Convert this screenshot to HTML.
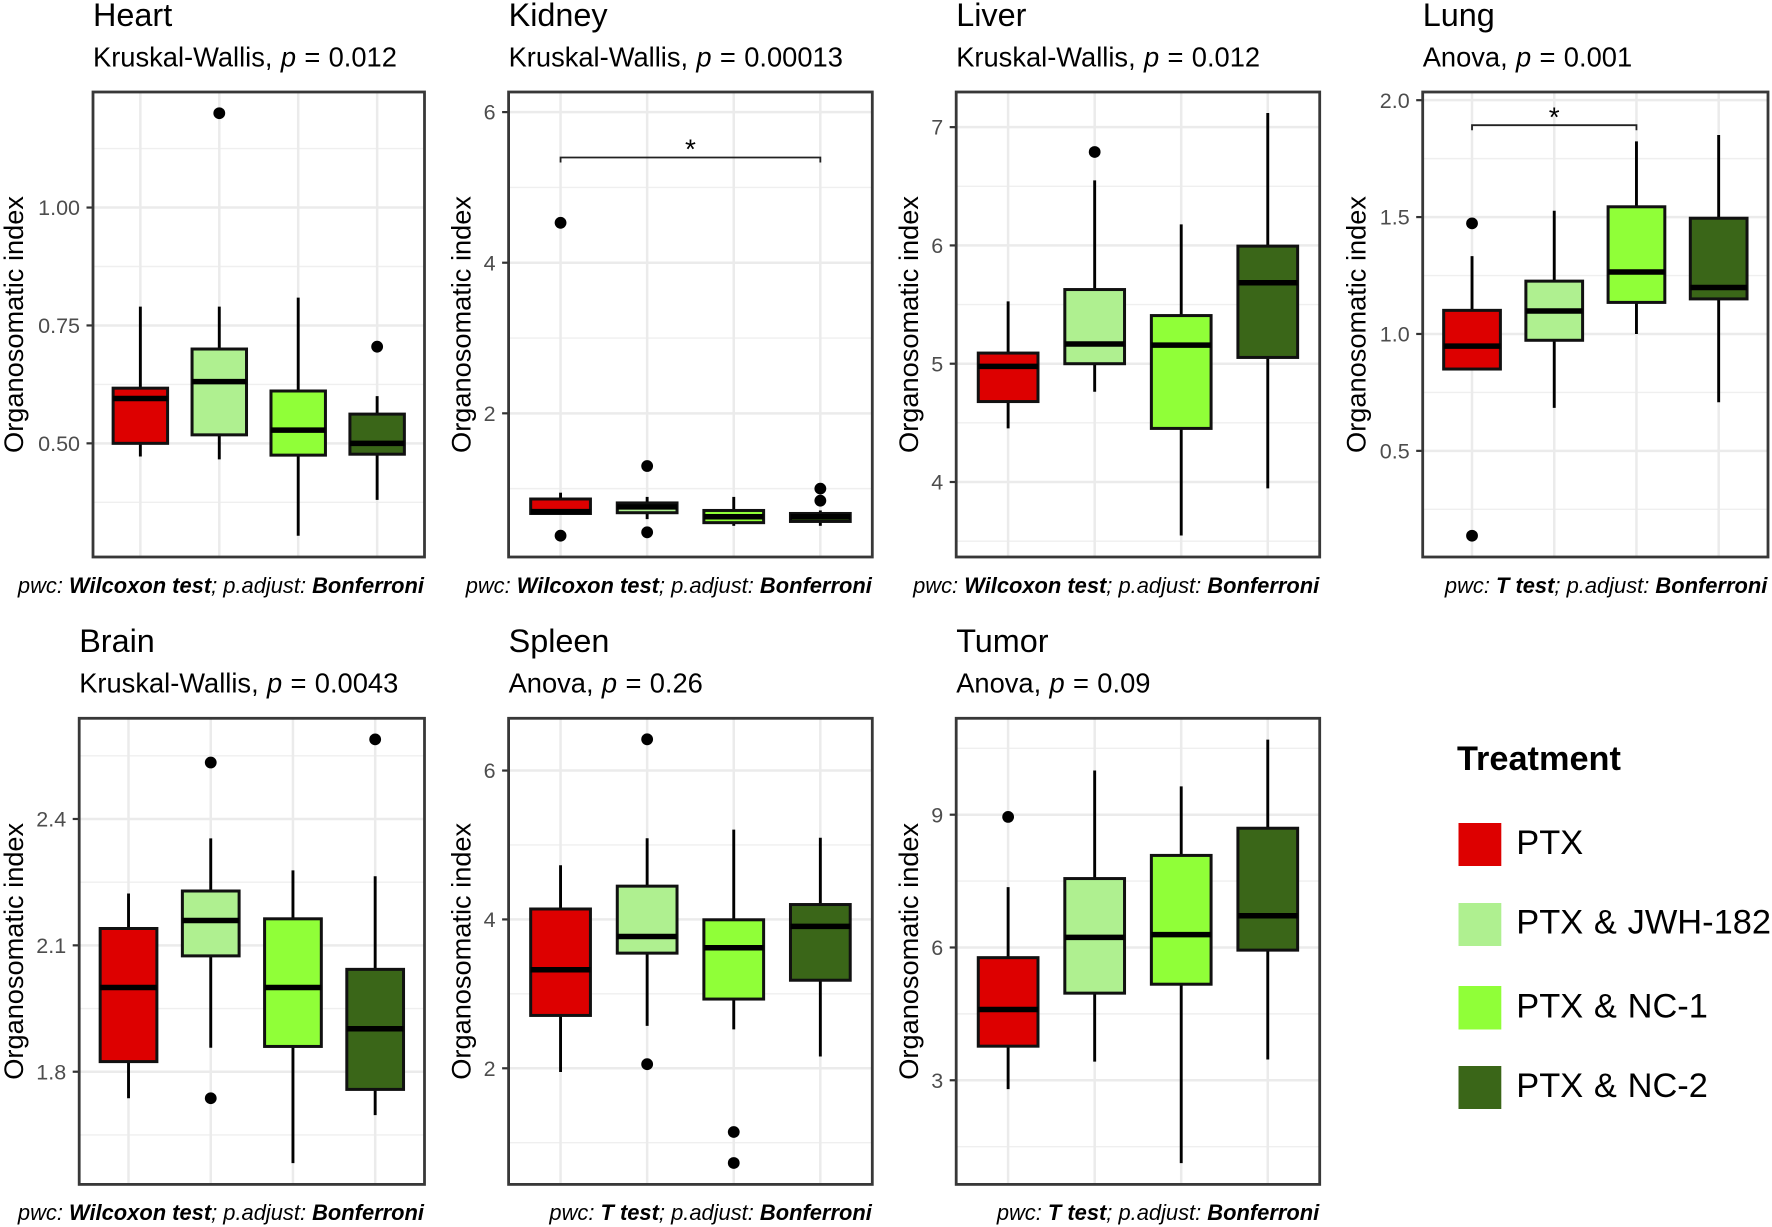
<!DOCTYPE html>
<html lang="en">
<head>
<meta charset="utf-8">
<title>Organosomatic index by treatment</title>
<style>
html,body{margin:0;padding:0;background:#fff;}
svg{display:block;font-family:"Liberation Sans",Arial,sans-serif;}
.title{font-size:32.4px;fill:#000;}
.subtitle{font-size:27.3px;fill:#000;word-spacing:0.75px;}
.ytitle{font-size:27.2px;fill:#000;}
.footer{font-size:21.9px;font-style:italic;fill:#000;text-anchor:end;}
.footer .b{font-weight:bold;}
.legend-title{font-size:34.3px;font-weight:bold;fill:#000;}
.legend-label{font-size:34.4px;fill:#000;word-spacing:1.2px;}
</style>
</head>
<body>
<svg id="figure" width="1772" height="1227" viewBox="0 0 1772 1227">
  <rect x="0" y="0" width="1772" height="1227" fill="#fff"/>

  <g>
    <text class="title" x="93" y="25.9">Heart</text>
    <text class="subtitle" x="93" y="66.3">Kruskal-Wallis, <tspan font-style="italic">p</tspan> = 0.012</text>
    <text class="ytitle" transform="translate(22.8,324.5) rotate(-90)" text-anchor="middle">Organosomatic index</text>
    <g id="heart-plot"></g>
    <text class="footer" x="424" y="593">pwc: <tspan class="b">Wilcoxon test</tspan>; p.adjust: <tspan class="b">Bonferroni</tspan></text>
  </g>

  <g>
    <text class="title" x="508.6" y="25.9">Kidney</text>
    <text class="subtitle" x="508.6" y="66.3">Kruskal-Wallis, <tspan font-style="italic">p</tspan> = 0.00013</text>
    <text class="ytitle" transform="translate(470.5,324.5) rotate(-90)" text-anchor="middle">Organosomatic index</text>
    <g id="kidney-plot"></g>
    <text class="footer" x="871.8" y="593">pwc: <tspan class="b">Wilcoxon test</tspan>; p.adjust: <tspan class="b">Bonferroni</tspan></text>
  </g>

  <g>
    <text class="title" x="956.2" y="25.9">Liver</text>
    <text class="subtitle" x="956.2" y="66.3">Kruskal-Wallis, <tspan font-style="italic">p</tspan> = 0.012</text>
    <text class="ytitle" transform="translate(918,324.5) rotate(-90)" text-anchor="middle">Organosomatic index</text>
    <g id="liver-plot"></g>
    <text class="footer" x="1319.2" y="593">pwc: <tspan class="b">Wilcoxon test</tspan>; p.adjust: <tspan class="b">Bonferroni</tspan></text>
  </g>

  <g>
    <text class="title" x="1422.7" y="25.9">Lung</text>
    <text class="subtitle" x="1422.7" y="66.3">Anova, <tspan font-style="italic">p</tspan> = 0.001</text>
    <text class="ytitle" transform="translate(1365.5,324.5) rotate(-90)" text-anchor="middle">Organosomatic index</text>
    <g id="lung-plot"></g>
    <text class="footer" x="1767.3" y="593">pwc: <tspan class="b">T test</tspan>; p.adjust: <tspan class="b">Bonferroni</tspan></text>
  </g>

  <g>
    <text class="title" x="79.2" y="652.2">Brain</text>
    <text class="subtitle" x="79.2" y="692.6">Kruskal-Wallis, <tspan font-style="italic">p</tspan> = 0.0043</text>
    <text class="ytitle" transform="translate(22.8,951.3) rotate(-90)" text-anchor="middle">Organosomatic index</text>
    <g id="brain-plot"></g>
    <text class="footer" x="424" y="1219.8">pwc: <tspan class="b">Wilcoxon test</tspan>; p.adjust: <tspan class="b">Bonferroni</tspan></text>
  </g>

  <g>
    <text class="title" x="508.6" y="652.2">Spleen</text>
    <text class="subtitle" x="508.6" y="692.6">Anova, <tspan font-style="italic">p</tspan> = 0.26</text>
    <text class="ytitle" transform="translate(470.5,951.3) rotate(-90)" text-anchor="middle">Organosomatic index</text>
    <g id="spleen-plot"></g>
    <text class="footer" x="871.8" y="1219.8">pwc: <tspan class="b">T test</tspan>; p.adjust: <tspan class="b">Bonferroni</tspan></text>
  </g>

  <g>
    <text class="title" x="956.2" y="652.2">Tumor</text>
    <text class="subtitle" x="956.2" y="692.6">Anova, <tspan font-style="italic">p</tspan> = 0.09</text>
    <text class="ytitle" transform="translate(918,951.3) rotate(-90)" text-anchor="middle">Organosomatic index</text>
    <g id="tumor-plot"></g>
    <text class="footer" x="1319.2" y="1219.8">pwc: <tspan class="b">T test</tspan>; p.adjust: <tspan class="b">Bonferroni</tspan></text>
  </g>

  <g>
    <text class="legend-title" x="1457" y="770">Treatment</text>
    <rect x="1458.5" y="823" width="42.8" height="43" fill="#dd0000"/>
    <text class="legend-label" x="1516.3" y="854">PTX</text>
    <rect x="1458.5" y="903" width="42.8" height="43" fill="#aff090"/>
    <text class="legend-label" x="1516.3" y="933.6">PTX &amp; JWH-182</text>
    <rect x="1458.5" y="986" width="42.8" height="43.5" fill="#90ff38"/>
    <text class="legend-label" x="1516.3" y="1017.3">PTX &amp; NC-1</text>
    <rect x="1458.5" y="1066" width="42.8" height="43" fill="#3a6618"/>
    <text class="legend-label" x="1516.3" y="1097">PTX &amp; NC-2</text>
  </g>
</svg>

<script>
// ---- categories ----
const treatments = ['PTX', 'PTX & JWH-182', 'PTX & NC-1', 'PTX & NC-2'];

// ---- Heart ----
const heartTicks = [0.5, 0.75, 1.0];
const heartTickLabels = ['0.50', '0.75', '1.00'];
const heartDomain = [0.259, 1.245];
const heartLow = [0.472, 0.466, 0.304, 0.38];
const heartQ1 = [0.5, 0.518, 0.475, 0.477];
const heartMedian = [0.595, 0.631, 0.528, 0.5];
const heartQ3 = [0.617, 0.7, 0.611, 0.562];
const heartHigh = [0.79, 0.79, 0.809, 0.6];
const heartOutliers = [[], [1.2], [], [0.705]];

// ---- Kidney ----
const kidneyTicks = [2, 4, 6];
const kidneyTickLabels = ['2', '4', '6'];
const kidneyDomain = [0.092, 6.267];
const kidneyLow = [0.67, 0.595, 0.506, 0.506];
const kidneyQ1 = [0.67, 0.68, 0.548, 0.564];
const kidneyMedian = [0.695, 0.757, 0.626, 0.626];
const kidneyQ3 = [0.862, 0.81, 0.71, 0.67];
const kidneyHigh = [0.946, 0.89, 0.89, 0.71];
const kidneyOutliers = [[4.53, 0.375], [1.3, 0.42], [], [1.0, 0.84]];
const kidneyBracket = [5.397];
const kidneyBracketGroups = [0, 3];

// ---- Liver ----
const liverTicks = [4, 5, 6, 7];
const liverTickLabels = ['4', '5', '6', '7'];
const liverDomain = [3.366, 7.297];
const liverLow = [4.453, 4.763, 3.548, 3.946];
const liverQ1 = [4.68, 5.0, 4.453, 5.053];
const liverMedian = [4.977, 5.167, 5.157, 5.684];
const liverQ3 = [5.09, 5.627, 5.407, 5.994];
const liverHigh = [5.527, 6.55, 6.178, 7.119];
const liverOutliers = [[], [6.79], [], []];

// ---- Lung ----
const lungTicks = [0.5, 1.0, 1.5, 2.0];
const lungTickLabels = ['0.5', '1.0', '1.5', '2.0'];
const lungDomain = [0.046, 2.035];
const lungLow = [0.85, 0.684, 1.0, 0.708];
const lungQ1 = [0.85, 0.973, 1.135, 1.15];
const lungMedian = [0.948, 1.098, 1.265, 1.199];
const lungQ3 = [1.101, 1.226, 1.544, 1.495];
const lungHigh = [1.333, 1.527, 1.824, 1.851];
const lungOutliers = [[1.473, 0.137], [], [], []];
const lungBracket = [1.893];
const lungBracketGroups = [0, 2];

// ---- Brain ----
const brainTicks = [1.8, 2.1, 2.4];
const brainTickLabels = ['1.8', '2.1', '2.4'];
const brainDomain = [1.5325, 2.639];
const brainLow = [1.737, 1.857, 1.583, 1.697];
const brainQ1 = [1.824, 2.075, 1.86, 1.758];
const brainMedian = [2.0, 2.159, 2.0, 1.902];
const brainQ3 = [2.14, 2.229, 2.163, 2.043];
const brainHigh = [2.223, 2.354, 2.278, 2.264];
const brainOutliers = [[], [2.534, 1.737], [], [2.589]];

// ---- Spleen ----
const spleenTicks = [2, 4, 6];
const spleenTickLabels = ['2', '4', '6'];
const spleenDomain = [0.44, 6.702];
const spleenLow = [1.95, 2.57, 2.523, 2.159];
const spleenQ1 = [2.71, 3.547, 2.93, 3.183];
const spleenMedian = [3.324, 3.77, 3.62, 3.906];
const spleenQ3 = [4.14, 4.447, 3.995, 4.2];
const spleenHigh = [4.728, 5.09, 5.207, 5.098];
const spleenOutliers = [[], [6.42, 2.055], [1.144, 0.728], []];

// ---- Tumor ----
const tumorTicks = [3, 6, 9];
const tumorTickLabels = ['3', '6', '9'];
const tumorDomain = [0.647, 11.178];
const tumorLow = [2.8, 3.42, 1.128, 3.47];
const tumorQ1 = [3.77, 4.968, 5.17, 5.94];
const tumorMedian = [4.6, 6.227, 6.289, 6.717];
const tumorQ3 = [5.77, 7.557, 8.08, 8.694];
const tumorHigh = [7.364, 10.0, 9.639, 10.697];
const tumorOutliers = [[8.95], [], [], []];

// ---- appearance (not data) ----
const fillColors = ['#dd0000', '#aff090', '#90ff38', '#3a6618'];
const SVG_NS = 'http://www.w3.org/2000/svg';

function make(parent, tag, attrs) {
  const node = document.createElementNS(SVG_NS, tag);
  for (const key in attrs) node.setAttribute(key, attrs[key]);
  parent.appendChild(node);
  return node;
}

function slug(label) {
  return label.toLowerCase().replace(/[^a-z0-9]+/g, '-');
}

function drawPanel(organ, frame, d) {
  const root = document.getElementById(organ + '-plot');
  const y = v => frame.bottom - (v - d.domain[0]) / (d.domain[1] - d.domain[0]) * (frame.bottom - frame.top);
  const unit = (frame.right - frame.left) / (treatments.length - 1 + 1.2);
  const x = i => frame.left + (0.6 + i) * unit;
  const boxW = 0.69 * unit;

  const bg = make(root, 'rect', {x: frame.left, y: frame.top, width: frame.right - frame.left, height: frame.bottom - frame.top, fill: '#fff'});
  
  

  // minor grid, derived from tick spacing
  const step = d.ticks[1] - d.ticks[0];
  for (let m = d.ticks[0] - step / 2; m < d.domain[1]; m += step) {
    if (m <= d.domain[0]) continue;
    const minor = make(root, 'line', {x1: frame.left, x2: frame.right, y1: y(m), y2: y(m), stroke: '#efefef', 'stroke-width': 1.4});
    
    
  }
  d.ticks.forEach((t, i) => {
    const major = make(root, 'line', {x1: frame.left, x2: frame.right, y1: y(t), y2: y(t), stroke: '#ebebeb', 'stroke-width': 2.5});
    
    
    const tick = make(root, 'line', {x1: frame.left - 6.5, x2: frame.left, y1: y(t), y2: y(t), stroke: '#333', 'stroke-width': 2.2});
    
    
    const label = make(root, 'text', {x: frame.left - 13, y: y(t) + 7.6, 'text-anchor': 'end', 'font-size': '21.5px', fill: '#4d4d4d'});
    label.textContent = d.tickLabels[i];
    
    
  });
  treatments.forEach((_, i) => {
    const vert = make(root, 'line', {x1: x(i), x2: x(i), y1: frame.top, y2: frame.bottom, stroke: '#ebebeb', 'stroke-width': 2.5});
    
    
  });

  treatments.forEach((treatment, i) => {
    const id = organ + '-' + slug(treatment);
    const whisker = make(root, 'line', {x1: x(i), x2: x(i), y1: y(d.low[i]), y2: y(d.high[i]), stroke: '#000', 'stroke-width': 2.9});
    
    

    const box = make(root, 'rect', {x: x(i) - boxW / 2, y: y(d.q3[i]), width: boxW, height: y(d.q1[i]) - y(d.q3[i]), fill: fillColors[i], stroke: '#111', 'stroke-width': 3});
    
    

    const median = make(root, 'line', {x1: x(i) - boxW / 2, x2: x(i) + boxW / 2, y1: y(d.median[i]), y2: y(d.median[i]), stroke: '#000', 'stroke-width': 5.5});
    
    

    d.outliers[i].forEach(v => {
      const dot = make(root, 'circle', {cx: x(i), cy: y(v), r: 5.9, fill: '#000'});
      
      
    });
  });

  if (d.bracket) {
    const by = y(d.bracket[0]);
    const x1 = x(d.bracketGroups[0]);
    const x2 = x(d.bracketGroups[1]);
    const br = make(root, 'path', {d: 'M' + x1 + ' ' + (by + 5) + 'V' + by + 'H' + x2 + 'V' + (by + 5), fill: 'none', stroke: '#222', 'stroke-width': 1.8});
    
    
    const star = make(root, 'text', {x: (x1 + x2) / 2, y: by + 1.2, 'text-anchor': 'middle', 'font-size': '28px', fill: '#000'});
    star.textContent = '*';
    
    
  }

  const border = make(root, 'rect', {x: frame.left, y: frame.top, width: frame.right - frame.left, height: frame.bottom - frame.top, fill: 'none', stroke: '#383838', 'stroke-width': 2.8});
  
  
}

drawPanel('heart', {left: 93, right: 424.5, top: 92, bottom: 557},
  {ticks: heartTicks, tickLabels: heartTickLabels, domain: heartDomain, low: heartLow, q1: heartQ1, median: heartMedian, q3: heartQ3, high: heartHigh, outliers: heartOutliers});
drawPanel('kidney', {left: 508.6, right: 872.3, top: 92, bottom: 557},
  {ticks: kidneyTicks, tickLabels: kidneyTickLabels, domain: kidneyDomain, low: kidneyLow, q1: kidneyQ1, median: kidneyMedian, q3: kidneyQ3, high: kidneyHigh, outliers: kidneyOutliers, bracket: kidneyBracket, bracketGroups: kidneyBracketGroups});
drawPanel('liver', {left: 956.2, right: 1319.7, top: 92, bottom: 557},
  {ticks: liverTicks, tickLabels: liverTickLabels, domain: liverDomain, low: liverLow, q1: liverQ1, median: liverMedian, q3: liverQ3, high: liverHigh, outliers: liverOutliers});
drawPanel('lung', {left: 1422.7, right: 1768, top: 92, bottom: 557},
  {ticks: lungTicks, tickLabels: lungTickLabels, domain: lungDomain, low: lungLow, q1: lungQ1, median: lungMedian, q3: lungQ3, high: lungHigh, outliers: lungOutliers, bracket: lungBracket, bracketGroups: lungBracketGroups});
drawPanel('brain', {left: 79.2, right: 424.5, top: 718.3, bottom: 1184.4},
  {ticks: brainTicks, tickLabels: brainTickLabels, domain: brainDomain, low: brainLow, q1: brainQ1, median: brainMedian, q3: brainQ3, high: brainHigh, outliers: brainOutliers});
drawPanel('spleen', {left: 508.6, right: 872.3, top: 718.3, bottom: 1184.4},
  {ticks: spleenTicks, tickLabels: spleenTickLabels, domain: spleenDomain, low: spleenLow, q1: spleenQ1, median: spleenMedian, q3: spleenQ3, high: spleenHigh, outliers: spleenOutliers});
drawPanel('tumor', {left: 956.2, right: 1319.7, top: 718.3, bottom: 1184.4},
  {ticks: tumorTicks, tickLabels: tumorTickLabels, domain: tumorDomain, low: tumorLow, q1: tumorQ1, median: tumorMedian, q3: tumorQ3, high: tumorHigh, outliers: tumorOutliers});
</script>
</body>
</html>
